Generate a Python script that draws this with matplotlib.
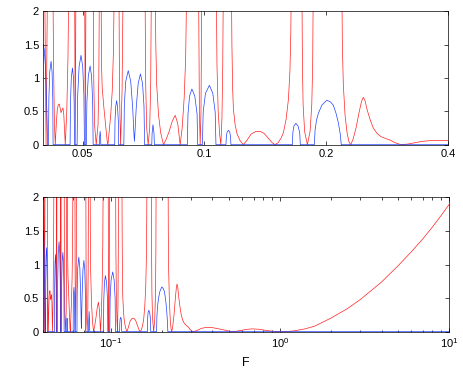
import matplotlib
matplotlib.use('Agg')
import matplotlib.pyplot as plt
from matplotlib.ticker import NullLocator, FixedLocator, FixedFormatter

plt.rcParams['font.family'] = ['Liberation Sans', 'DejaVu Sans']

# frequency axis (F) and the two responses
F_red = [0.04000, 0.04030, 0.04064, 0.04099,
         0.04222, 0.04241, 0.04262, 0.04282, 0.04306, 0.04331, 0.04356, 0.04381, 0.04406,
         0.04426, 0.04449, 0.04474, 0.04495, 0.04515, 0.04533, 0.04572, 0.04603, 0.04629,
         0.04779, 0.04798, 0.04818,
         0.05060, 0.05080, 0.05101,
         0.05315, 0.05330, 0.05355, 0.05406, 0.05462, 0.05487, 0.05506,
         0.05555, 0.05571, 0.05593, 0.05648, 0.05706, 0.05755, 0.05777, 0.05810, 0.05871,
         0.05921, 0.05962, 0.05996,
         0.06150, 0.06171, 0.06209, 0.06262, 0.06305,
         0.07131, 0.07164, 0.07204, 0.07266, 0.07328, 0.07370, 0.07403,
         0.07561, 0.07587, 0.07626, 0.07705, 0.07801, 0.07926, 0.08049, 0.08187, 0.08329,
         0.08472, 0.08594, 0.08667, 0.08716, 0.08815, 0.08916, 0.08993, 0.09055,
         0.09673, 0.09723, 0.09767, 0.09812, 0.09862,
         0.10698, 0.10746, 0.10820, 0.10913, 0.10986, 0.11055, 0.11105, 0.11149,
         0.11660, 0.11700, 0.11747, 0.11800, 0.11915, 0.12051, 0.12258, 0.12490, 0.12756,
         0.13052, 0.13428, 0.13735, 0.14051, 0.14374, 0.14708, 0.14961, 0.15218, 0.15480,
         0.15683, 0.15926, 0.16137, 0.16276, 0.16360, 0.16416,
         0.17414, 0.17475, 0.17544, 0.17694, 0.17978, 0.18253, 0.18430, 0.18525, 0.18598,
         0.21856, 0.21932, 0.22055, 0.22269, 0.22525, 0.22782, 0.23004, 0.23306, 0.23707,
         0.24115, 0.24461, 0.24710, 0.24951, 0.25237, 0.25672, 0.26157, 0.26714, 0.27329,
         0.28117, 0.28765, 0.29593, 0.30622, 0.31864, 0.33157, 0.34505, 0.36112, 0.37578,
         0.40, 0.45, 0.50, 0.53, 0.58, 0.64, 0.69, 0.76, 0.85, 0.95, 1.05, 1.2, 1.4, 1.6,
         2.0, 2.5, 3.0, 4.0, 5.0, 6.0, 7.0, 8.0, 9.0, 10.0]
red = [2.6, 2.6, 0, 2.6,
       2.6, 1.2, 0.3, 0.0, 0.3, 0.52, 0.6, 0.61, 0.54,
       0.48, 0.52, 0.55, 0.45, 0.2, 0.0, 0.5, 1.3, 2.6,
       2.6, 0, 2.6,
       2.6, 0, 2.6,
       2.6, 1.0, 0.3, 0, 0.3, 1.0, 2.6,
       2.6, 1.2, 0.85, 0.55, 0.28, 0.05, 0, 0.15, 0.45,
       0.8, 1.4, 2.6,
       2.6, 0.8, 0, 0.8, 2.6,
       2.6, 0.9, 0.25, 0, 0.25, 0.9, 2.6,
       2.6, 1.5, 0.9, 0.45, 0.18, 0, 0.08, 0.2, 0.35,
       0.44, 0.32, 0.12, 0, 0.25, 0.7, 1.3, 2.6,
       2.6, 0.5, 0, 0.5, 2.6,
       2.6, 1.2, 0.5, 0.15, 0, 0.4, 1.2, 2.6,
       2.6, 1.5, 0.85, 0.53, 0.3, 0.16, 0.06, 0, 0.07,
       0.16, 0.2, 0.2, 0.17, 0.1, 0.03, 0, 0.03, 0.1,
       0.18, 0.38, 0.68, 1.1, 1.7, 2.6,
       2.6, 1.2, 0.6, 0.2, 0, 0.2, 0.6, 1.2, 2.6,
       2.6, 1.5, 0.9, 0.45, 0.18, 0.04, 0, 0.08, 0.25,
       0.48, 0.65, 0.71, 0.66, 0.53, 0.38, 0.25, 0.17, 0.12,
       0.09, 0.07, 0.03, 0, 0.01, 0.03, 0.05, 0.06, 0.065,
       0.06, 0.035, 0.01, 0, 0.015, 0.035, 0.042, 0.035, 0.015, 0.002, 0, 0.01, 0.04, 0.08,
       0.2, 0.34, 0.48, 0.74, 0.98, 1.19, 1.38, 1.56, 1.73, 1.89]

F_blue = [0.04000, 0.04023, 0.04046, 0.04069, 0.04088, 0.04099,
          0.04120, 0.04129, 0.04150, 0.04181, 0.04205, 0.04222, 0.04229,
          0.04659, 0.04669, 0.04691, 0.04722, 0.04750, 0.04768, 0.04777,
          0.04848, 0.04865, 0.04904, 0.04958, 0.05006, 0.05040, 0.05055,
          0.05109, 0.05127, 0.05168, 0.05221, 0.05264, 0.05297, 0.05312,
          0.05506, 0.05512, 0.05528, 0.05543, 0.05549,
          0.06006, 0.06016, 0.06040, 0.06071, 0.06102, 0.06130, 0.06140,
          0.06326, 0.06344, 0.06395, 0.06486, 0.06578, 0.06653, 0.06695, 0.06718,
          0.06741, 0.06787, 0.06864, 0.06951, 0.07035, 0.07094, 0.07119,
          0.07416, 0.07429, 0.07467, 0.07509, 0.07527,
          0.09080, 0.09112, 0.09195, 0.09316, 0.09472, 0.09596, 0.09629,
          0.09890, 0.09935, 0.10066, 0.10294, 0.10493, 0.10637, 0.10685,
          0.11309, 0.11335, 0.11386, 0.11470, 0.11555, 0.11608, 0.11634,
          0.16510, 0.16548, 0.16650, 0.16831, 0.17043, 0.17209, 0.17266,
          0.18704, 0.18779, 0.18939, 0.19136, 0.19509, 0.20072, 0.20509, 0.20837,
          0.21160, 0.21438, 0.21683, 0.21795,
          10.0]
blue = [1.5, 1.42, 1.2, 0.8, 0.35, 0,
        0, 0.69, 1.09, 1.25, 1.09, 0.69, 0,
        0, 0.63, 1.0, 1.15, 1.0, 0.63, 0,
        0, 0.74, 1.17, 1.34, 1.17, 0.74, 0,
        0, 0.65, 1.03, 1.18, 1.03, 0.65, 0,
        0, 0.12, 0.2, 0.12, 0,
        0, 0.36, 0.57, 0.66, 0.57, 0.36, 0,
        0, 0.6, 0.95, 1.11, 0.95, 0.55, 0.2, 0.05,
        0.2, 0.55, 0.92, 1.06, 0.92, 0.58, 0,
        0, 0.17, 0.3, 0.17, 0,
        0, 0.46, 0.73, 0.835, 0.73, 0.46, 0,
        0, 0.49, 0.77, 0.89, 0.77, 0.49, 0,
        0, 0.12, 0.19, 0.215, 0.19, 0.12, 0,
        0, 0.18, 0.28, 0.32, 0.28, 0.18, 0,
        0, 0.22, 0.37, 0.47, 0.59, 0.667, 0.64, 0.59,
        0.47, 0.33, 0.15, 0,
        0]

top_ticks = [0.05, 0.1, 0.2, 0.4]
top_labels = ['0.05', '0.1', '0.2', '0.4']
y_ticks = [0, 0.5, 1, 1.5, 2]
y_labels = ['0', '0.5', '1', '1.5', '2']

fig = plt.figure(figsize=(4.63, 3.71), dpi=100)
ax1 = fig.add_axes([0.0935, 0.610, 0.874, 0.3596])
ax2 = fig.add_axes([0.0935, 0.106, 0.876, 0.362])

for ax in (ax1, ax2):
    ax.plot(F_red, red, color='#ff2020', lw=0.5)
    ax.plot(F_blue, blue, color='#2040ff', lw=0.5)
    ax.set_xscale('log')
    ax.set_ylim(0, 2)
    ax.set_yticks(y_ticks)
    ax.set_yticklabels(y_labels)
    ax.tick_params(which='both', direction='in', top=True, right=True,
                   width=0.5, labelsize=8, pad=3)
    ax.tick_params(which='major', length=3)
    ax.tick_params(which='minor', length=1.8)
    for s in ax.spines.values():
        s.set_linewidth(0.5)

ax1.set_xlim(0.04, 0.4)
ax1.xaxis.set_major_locator(FixedLocator(top_ticks))
ax1.xaxis.set_major_formatter(FixedFormatter(top_labels))
ax1.xaxis.set_minor_locator(NullLocator())

ax2.set_xlim(0.04, 10)
ax2.set_xlabel('F', fontsize=9, labelpad=5)

plt.savefig('out.png', dpi=100)
